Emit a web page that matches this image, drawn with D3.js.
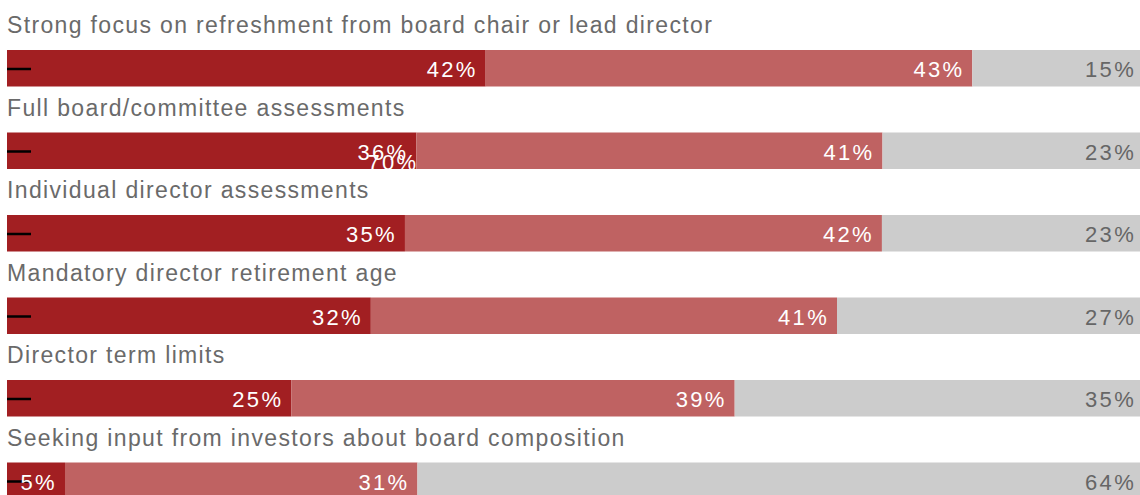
<!DOCTYPE html>
<html><head><meta charset="utf-8">
<script src="https://cdn.jsdelivr.net/npm/d3@7"></script>
<style>
html,body{margin:0;padding:0;background:#fff;overflow:hidden;}
text{font-family:"Liberation Sans",Arial,Helvetica,sans-serif;}
</style></head>
<body><svg id="c" width="1140" height="495"></svg>
<script>
const categories = [
  "Strong focus on refreshment from board chair or lead director",
  "Full board/committee assessments",
  "Individual director assessments",
  "Mandatory director retirement age",
  "Director term limits",
  "Seeking input from investors about board composition"
];
const seriesNames = ["Very effective", "Somewhat effective", "Not effective"];
const veryEffective = [42.1, 36.0, 35.0, 32.0, 25.0, 5.1];
const somewhatEffective = [42.8, 41.0, 41.95, 41.0, 39.0, 31.0];
const notEffective = [15.1, 23.0, 23.05, 27.0, 36.0, 63.9];
const veryLabels = ["42%", "36%", "35%", "32%", "25%", "5%"];
const somewhatLabels = ["43%", "41%", "42%", "41%", "39%", "31%"];
const notLabels = ["15%", "23%", "23%", "27%", "35%", "64%"];
const strayLabel = {row: 1, text: "70%"};

const colors = ["#a21f22", "#bf6262", "#cccccc"];
const labelColors = ["#ffffff", "#ffffff", "#666666"];

const svg = d3.select("#c");
const x = d3.scaleLinear().domain([0, 100]).range([7, 1144]);
const rowStep = 82.5, rowTop = 50, barH = 36.5;
const rowY = i => rowTop + i * rowStep;

const series = [veryEffective, somewhatEffective, notEffective];
const labels = [veryLabels, somewhatLabels, notLabels];

categories.forEach((cat, i) => {
  const g = svg.append("g");
  g.append("text").attr("x", 7).attr("y", rowY(i) - 17)
    .attr("font-size", 23).attr("letter-spacing", 1.35).attr("fill", "#6a6a6a").text(cat);
  let cum = 0;
  series.forEach((s, k) => {
    const x0 = x(cum), x1 = x(cum + s[i]);
    g.append("rect").attr("x", x0).attr("y", rowY(i)).attr("width", x1 - x0).attr("height", barH)
      .attr("fill", colors[k]);
    cum += s[i];
  });
  g.append("line").attr("x1", 7).attr("x2", 31).attr("y1", rowY(i) + 19).attr("y2", rowY(i) + 19)
    .attr("stroke", "#000").attr("stroke-width", 2.5);
  cum = 0;
  series.forEach((s, k) => {
    cum += s[i];
    const xe = Math.min(x(cum), 1144);
    g.append("text").attr("x", xe - 8).attr("y", rowY(i) + 27)
      .attr("text-anchor", "end").attr("font-size", 22).attr("letter-spacing", 2.3)
      .attr("fill", labelColors[k]).text(labels[k][i]);
  });
});

{
  const i = strayLabel.row;
  svg.append("defs").append("clipPath").attr("id", "cp").append("rect")
    .attr("x", 0).attr("y", rowY(i)).attr("width", 1140).attr("height", barH);
  svg.append("text").attr("clip-path", "url(#cp)")
    .attr("x", x(veryEffective[i]) + 2).attr("y", rowY(i) + 37)
    .attr("text-anchor", "end").attr("font-size", 22).attr("letter-spacing", 2.3)
    .attr("fill", "#fff").text(strayLabel.text);
}
</script></body></html>
